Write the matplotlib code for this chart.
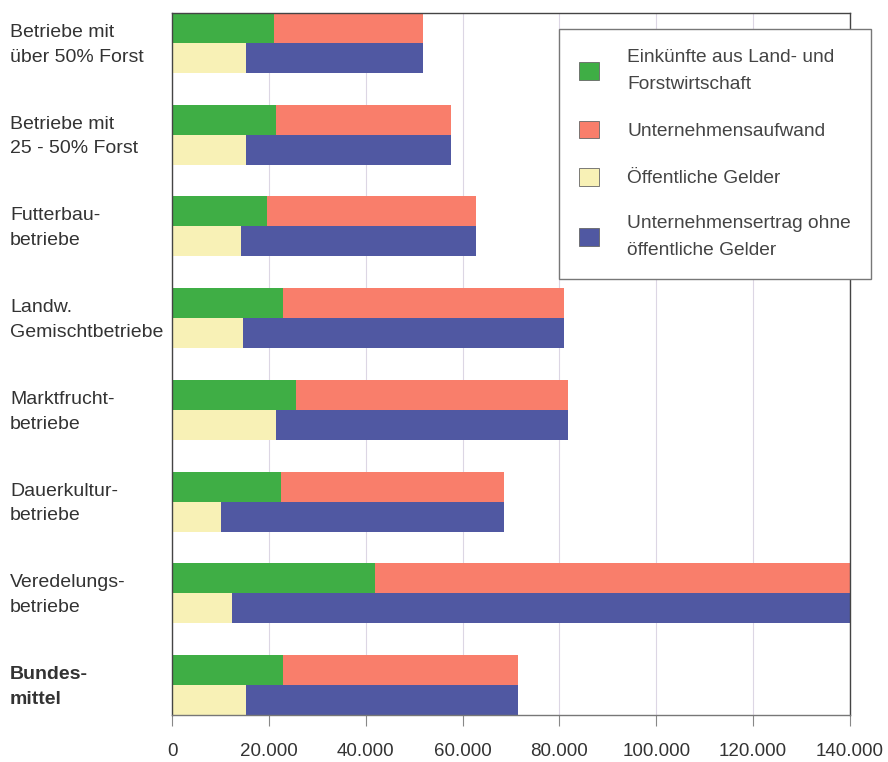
import numpy as np
import matplotlib
matplotlib.use("Agg")
import matplotlib.pyplot as plt
import matplotlib.transforms as mtransforms

plt.rcParams['font.family'] = ['Liberation Sans', 'DejaVu Sans']

# categories, top to bottom
categories = ["Betriebe mit\nüber 50% Forst", "Betriebe mit\n25 - 50% Forst",
              "Futterbau-\nbetriebe", "Landw.\nGemischtbetriebe",
              "Marktfrucht-\nbetriebe", "Dauerkultur-\nbetriebe",
              "Veredelungs-\nbetriebe", "Bundes-\nmittel"]

# upper bar: Einkünfte + Unternehmensaufwand = total
einkuenfte = [21100, 21450, 19700, 23000, 25700, 22600, 42000, 23000]
# lower bar: öffentliche Gelder + Ertrag ohne öff. Gelder = total
oeff_gelder = [15200, 15200, 14200, 14600, 21400, 10200, 12400, 15200]
ertrag_gesamt = [51900, 57700, 62700, 81000, 81700, 68500, 140000, 71500]

aufwand = [t - e for t, e in zip(ertrag_gesamt, einkuenfte)]
ertrag_ohne = [t - g for t, g in zip(ertrag_gesamt, oeff_gelder)]

labels = ["Einkünfte aus Land- und\nForstwirtschaft", "Unternehmensaufwand",
          "Öffentliche Gelder", "Unternehmensertrag ohne\nöffentliche Gelder"]
colors = ["#3FAE45", "#F97E6B", "#F8F1B6", "#5058A2"]

fig = plt.figure(figsize=(8.88, 7.62), dpi=100)
ax = fig.add_axes([172/888, 1 - 715/762, (850-172)/888, (715-13)/762])

y = np.arange(len(categories))
h = 0.327  # bar height

b1 = ax.barh(y - h/2, einkuenfte, height=h, color=colors[0], label=labels[0])
b2 = ax.barh(y - h/2, aufwand, left=einkuenfte, height=h, color=colors[1], label=labels[1])
b3 = ax.barh(y + h/2, oeff_gelder, height=h, color=colors[2], label=labels[2])
b4 = ax.barh(y + h/2, ertrag_ohne, left=oeff_gelder, height=h, color=colors[3], label=labels[3])

ax.set_xlim(0, 140000)
ax.set_ylim(len(categories) - 1 + h, -h)

ax.set_xticks(np.arange(0, 140001, 20000))
ax.set_xticklabels(["0" if v == 0 else f"{v:,}".replace(",", ".") for v in range(0, 140001, 20000)],
                   fontsize=13.5, color="#333333")
ax.tick_params(axis='x', length=8, width=0.8, color="#888888", pad=12)
ax.set_yticks([])
ax.grid(axis='x', color="#DCD6E4", linewidth=0.8)
ax.set_axisbelow(True)

for s in ax.spines.values():
    s.set_color("#444444")
    s.set_linewidth(1.0)
ax.spines['bottom'].set_color("#777777")

# category labels on the left
trans = mtransforms.blended_transform_factory(fig.transFigure, ax.transData)
for i, cat in enumerate(categories):
    bold = (i == len(categories) - 1)
    ax.text(10/888, i + 0.02, cat, transform=trans, ha='left', va='center', fontsize=14,
            color="#333333", fontweight='bold' if bold else 'normal', linespacing=1.6)

leg = fig.legend(handles=[b1, b2, b3, b4], loc='upper left',
                 bbox_to_anchor=(559/888, 1 - 29/762), fontsize=13.8,
                 frameon=True, fancybox=False, edgecolor="#777777", framealpha=1,
                 handlelength=1.05, handleheight=1.05, handletextpad=1.45,
                 labelspacing=1.45, borderpad=1.05, borderaxespad=0)
leg.get_frame().set_linewidth(1.0)
for t in leg.get_texts():
    t.set_color("#444444")
    t.set_linespacing(1.75)
for p in leg.get_patches():
    p.set_edgecolor("#666666")
    p.set_linewidth(0.6)

fig.savefig("out.png", dpi=100)
